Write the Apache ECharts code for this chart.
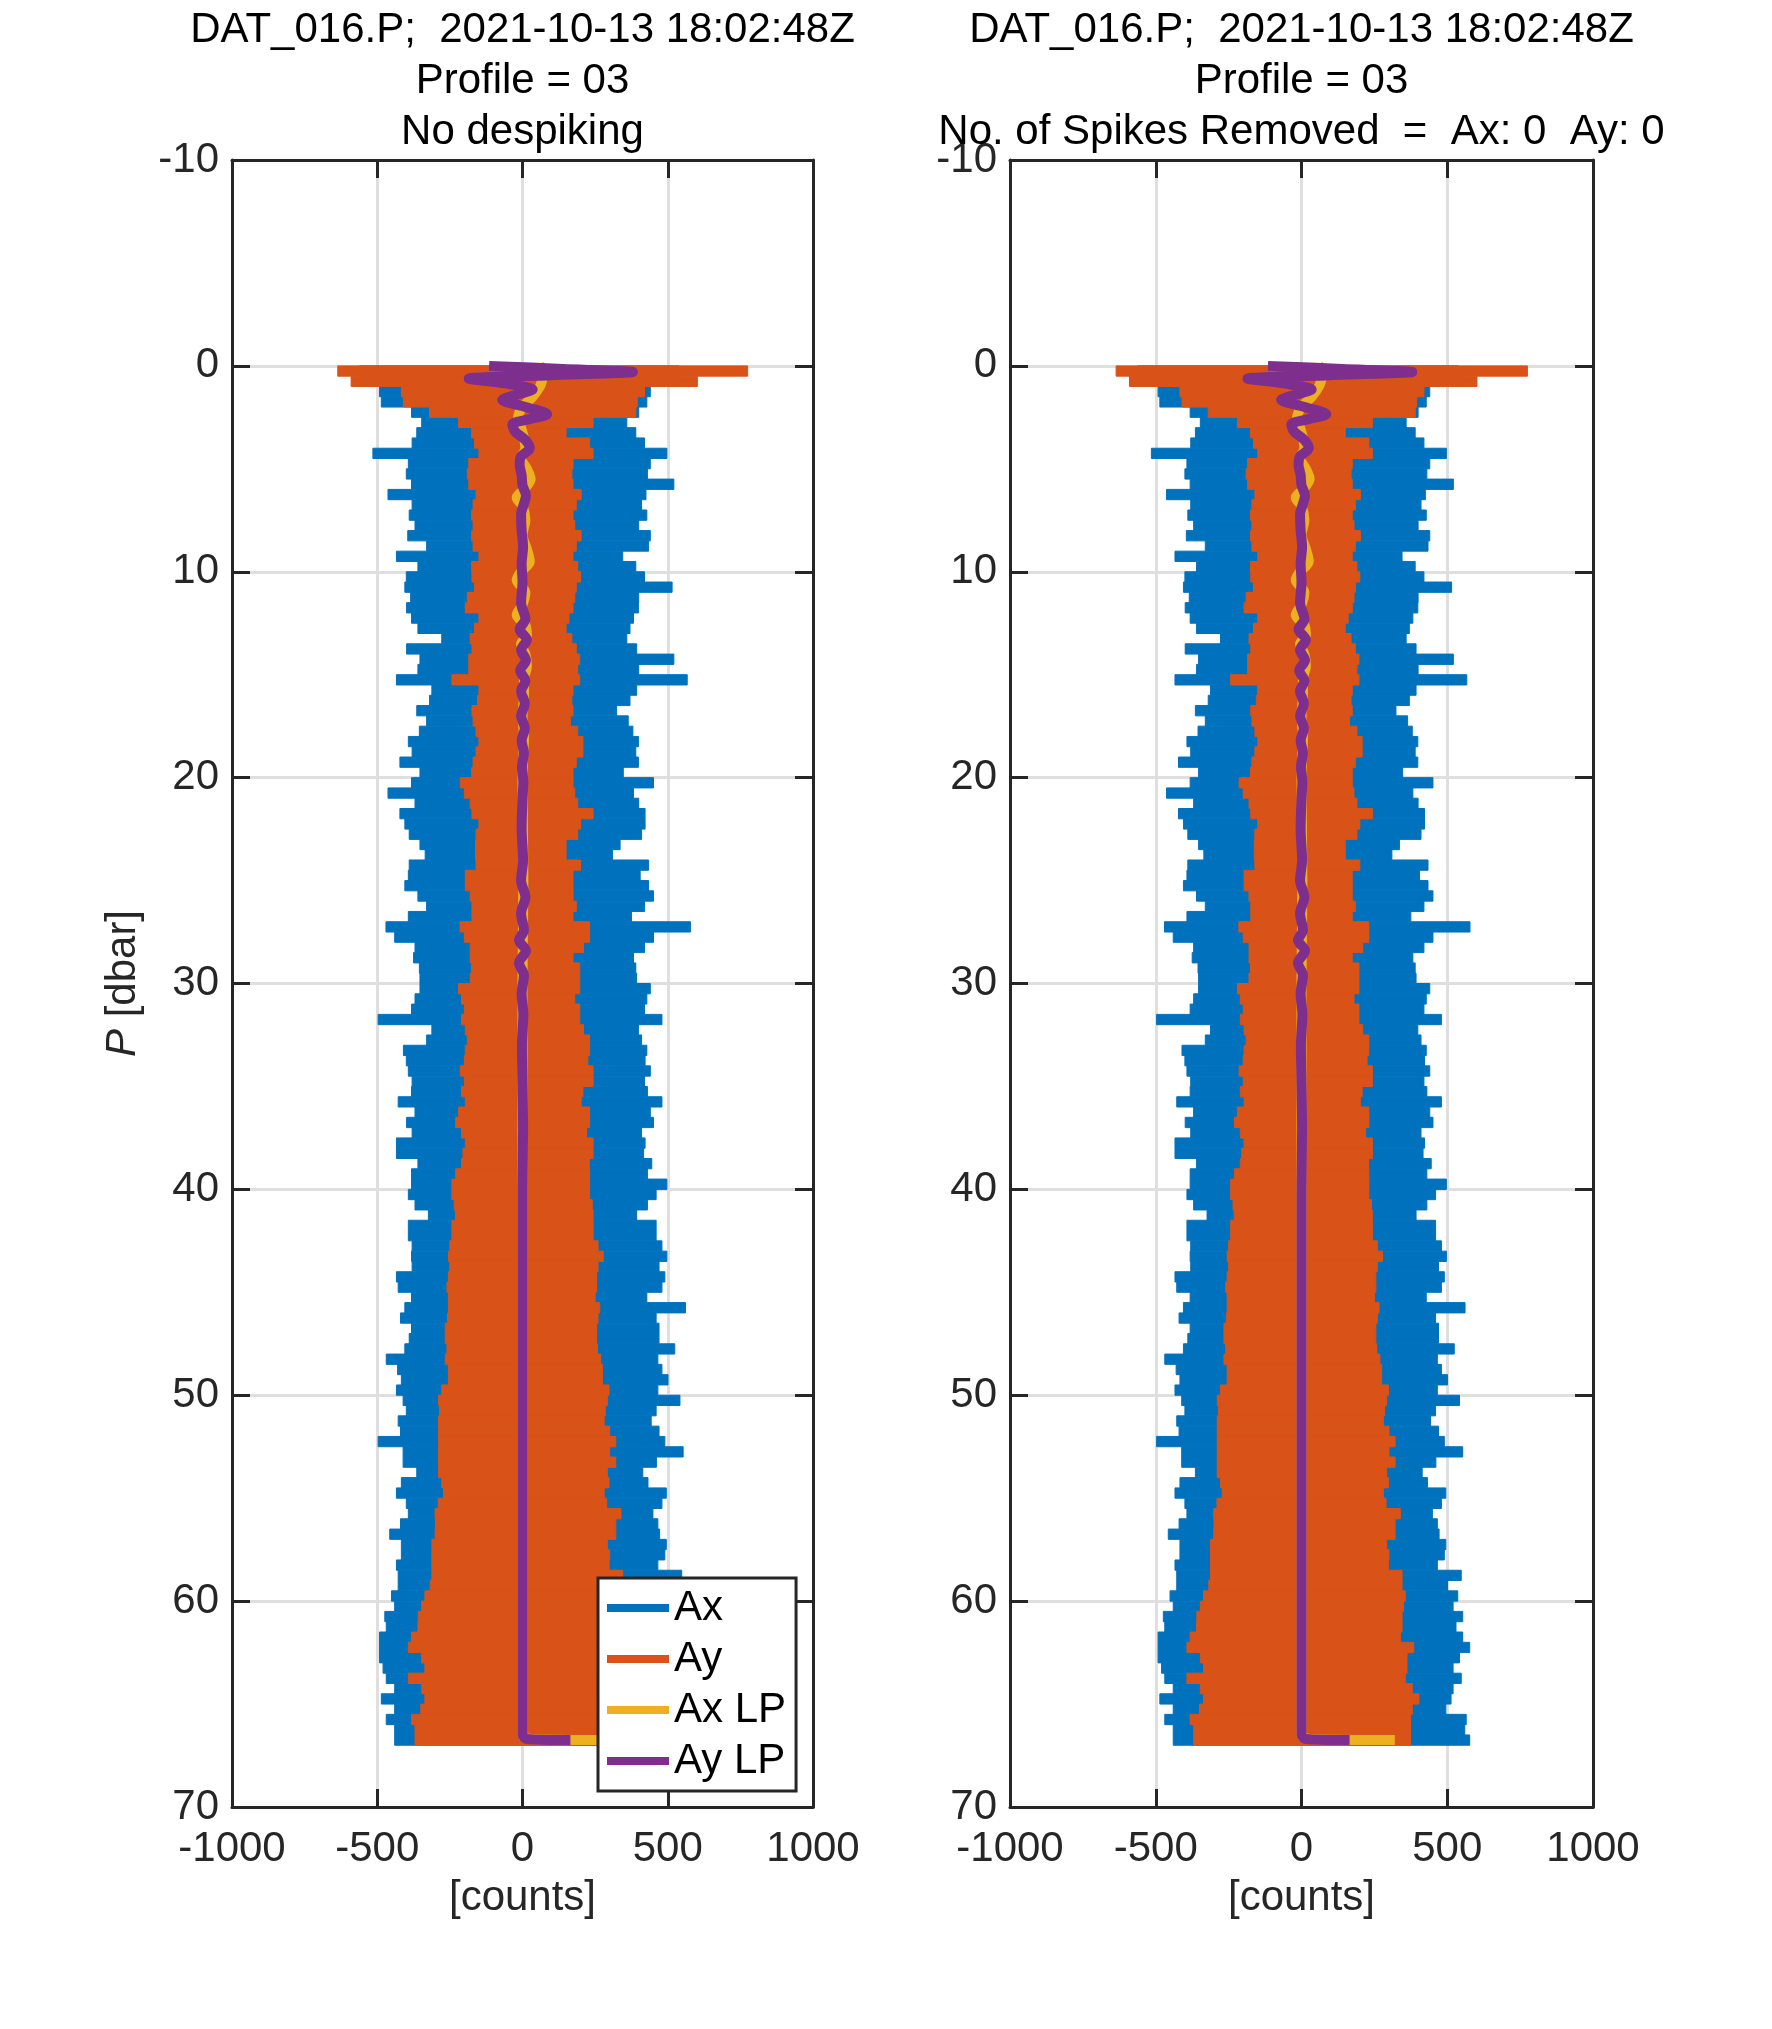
<!DOCTYPE html>
<html>
<head>
<meta charset="utf-8">
<script src="https://cdn.jsdelivr.net/npm/echarts@6/dist/echarts.min.js"></script>
<style>
html,body{margin:0;padding:0;background:#fff;}
#chart{width:1772px;height:2029px;}
</style>
</head>
<body>
<div id="chart"></div>
<script>
// ---- Data ----
// Pressure levels [dbar] at which the envelope of the fast-oscillating traces was read
var pressure = [
0.25,0.75,1.25,1.75,2.25,2.75,3.25,3.75,4.25,4.75,
5.25,5.75,6.25,6.75,7.25,7.75,8.25,8.75,9.25,9.75,
10.25,10.75,11.25,11.75,12.25,12.75,13.25,13.75,14.25,14.75,
15.25,15.75,16.25,16.75,17.25,17.75,18.25,18.75,19.25,19.75,
20.25,20.75,21.25,21.75,22.25,22.75,23.25,
23.75,24.25,24.75,25.25,25.75,26.25,26.75,27.25,27.75,28.25,
28.75,29.25,29.75,30.25,30.75,31.25,31.75,32.25,32.75,33.25,
33.75,34.25,34.75,35.25,35.75,36.25,36.75,37.25,37.75,38.25,
38.75,39.25,39.75,40.25,40.75,41.25,41.75,42.25,42.75,43.25,
43.75,44.25,44.75,45.25,45.75,46.25,46.75,47.25,
47.75,48.25,48.75,49.25,49.75,50.25,50.75,51.25,51.75,52.25,
52.75,53.25,53.75,54.25,54.75,55.25,55.75,56.25,56.75,57.25,
57.75,58.25,58.75,59.25,59.75,60.25,60.75,61.25,61.75,62.25,
62.75,63.25,63.75,64.25,64.75,65.25,65.75,66.25,66.75
];
// Ax [counts]: left and right extremes at each level
var axMin = [
-561,-490,-492,-486,-382,-347,-364,-380,-515,-393,
-400,-382,-463,-380,-390,-370,-395,-330,-434,-360,
-400,-405,-385,-399,-382,-360,-278,-399,-353,-360,
-434,-312,-320,-364,-330,-355,-393,-380,-422,-353,
-382,-463,-370,-422,-405,-390,-353,
-335,-390,-393,-405,-360,-330,-393,-470,-440,-370,
-375,-355,-353,-353,-370,-382,-497,-312,-330,-410,
-400,-393,-380,-382,-428,-370,-399,-380,-434,-434,
-360,-382,-382,-393,-370,-324,-393,-393,-380,-382,
-380,-434,-428,-382,-405,-420,-382,-390,
-405,-469,-430,-417,-434,-411,-400,-428,-420,-497,
-411,-411,-364,-417,-434,-400,-393,-420,-457,-417,
-417,-434,-428,-428,-451,-440,-474,-469,-492,-492,
-492,-480,-469,-440,-486,-440,-469,-440,-440
];
var axMax = [
538,460,440,428,400,359,390,420,497,440,
430,521,425,410,428,400,440,434,345,390,
420,515,400,399,382,370,359,393,521,400,
567,393,370,324,364,380,399,390,399,347,
451,382,400,422,422,410,336,
310,434,405,434,451,420,375,578,451,420,
382,390,393,440,428,420,480,399,410,428,
422,440,420,430,480,440,451,410,422,417,
445,430,497,460,430,393,460,460,480,497,
470,490,480,428,561,460,470,470,
524,466,480,501,466,542,460,443,470,490,
553,461,414,432,495,480,449,466,472,495,
490,466,548,501,536,520,553,530,553,577,
542,520,548,520,513,495,565,560,577
];
// Ay [counts]: left and right extremes at each level
var ayMin = [
-636,-590,-417,-410,-320,-220,-175,-165,-150,-185,
-190,-185,-160,-170,-175,-170,-175,-170,-150,-175,
-174,-165,-190,-197,-150,-165,-180,-174,-185,-185,
-243,-150,-155,-174,-170,-160,-150,-160,-170,-175,
-214,-200,-180,-174,-150,-160,-162,
-162,-160,-197,-197,-180,-174,-174,-215,-200,-180,
-180,-175,-180,-220,-210,-200,-210,-197,-190,-197,
-200,-214,-200,-210,-197,-220,-230,-210,-197,-205,
-210,-230,-243,-243,-235,-231,-243,-243,-250,-255,
-250,-255,-260,-255,-255,-258,-266,-266,
-260,-266,-255,-255,-278,-289,-285,-289,-289,-289,
-289,-289,-289,-278,-272,-290,-301,-300,-301,-312,
-312,-312,-312,-318,-336,-347,-359,-360,-382,-393,
-347,-336,-393,-347,-336,-350,-382,-370,-370
];
var ayMax = [
775,602,420,395,390,243,150,231,243,174,
170,174,202,185,174,180,202,185,174,190,
200,185,180,174,160,150,170,185,197,190,
197,174,170,174,165,190,208,208,185,174,
174,180,190,243,200,190,150,
150,200,174,174,174,185,174,231,231,210,
174,197,197,197,180,197,197,210,231,231,
225,243,243,208,202,231,231,220,243,243,
230,231,231,231,240,243,243,243,260,278,
260,255,255,250,266,260,255,255,
258,269,275,275,298,292,285,281,300,321,
300,321,292,298,281,290,339,321,321,292,
300,298,345,345,356,350,345,345,339,385,
362,362,356,380,403,380,374,374,374
];
// Low-passed traces
var axLpP = [0.0,0.3,0.6,1.0,1.5,2.0,2.5,3.0,3.5,4.0,4.5,5.0,5.5,6.0,6.4,6.8,7.5,8.2,8.9,9.5,10.0,10.4,11.0,11.6,12.1,12.6,13.1,13.5,14.0,14.6,15.2,16.0,17.0,18.0,20.0,25.0,30.0,40.0,50.0,60.0,66.5,66.7,66.75];
var axLpX = [60,80,70,60,35,0,-15,-5,5,10,-5,15,28,5,-20,0,10,0,15,25,-5,-20,10,0,-20,10,15,-5,10,15,5,5,0,5,0,3,0,0,0,0,0,30,320];
var ayLpP = [0.0,0.15,0.3,0.45,0.62,0.85,1.15,1.4,1.65,2.0,2.35,2.6,2.85,3.2,3.6,4.0,4.4,4.8,5.3,5.8,6.3,6.7,7.2,8.0,8.8,9.6,10.5,11.5,12.3,12.8,13.3,13.8,14.3,14.8,15.3,15.8,16.4,17.0,17.6,18.2,18.8,19.5,20.2,21.0,22.5,24.0,25.0,25.8,26.6,27.4,27.9,28.4,29.0,29.6,30.5,31.5,33.0,35.0,37.0,40.0,45.0,50.0,55.0,60.0,66.5,66.7,66.75];
var ayLpX = [-115,140,380,100,-185,-60,35,-20,-70,10,85,20,-35,-25,10,25,-5,-10,-3,0,12,5,-5,-3,2,-3,0,-5,10,-10,15,-5,12,-8,10,-5,8,-5,8,-3,5,-2,3,0,-3,2,-5,10,-5,5,-12,12,-12,5,-3,3,-2,0,2,0,0,0,0,0,0,15,165];

var xTicks = [-1000, -500, 0, 500, 1000];
var yTicks = [-10, 0, 10, 20, 30, 40, 50, 60, 70];
var titles = [
  'DAT_016.P;  2021-10-13 18:02:48Z\nProfile = 03\nNo despiking',
  'DAT_016.P;  2021-10-13 18:02:48Z\nProfile = 03\nNo. of Spikes Removed  =  Ax: 0  Ay: 0'
];
var seriesNames = ['Ax', 'Ay', 'Ax LP', 'Ay LP'];

// ---- Styling ----
var FONT = "'Liberation Sans', Arial, Helvetica, sans-serif";
var FS = 42;
var COL = { 'Ax': '#0072BD', 'Ay': '#D95319', 'Ax LP': '#EDB120', 'Ay LP': '#7E2F8E' };
var AXC = '#262626';
var HALF = 0.25; // half the height of one envelope level (dbar)
var grids = [
  { left: 232, top: 160, width: 581, height: 1647 },
  { left: 1010, top: 160, width: 583, height: 1647 }
];

function bandRender(params, api) {
  var lo = api.value(0), hi = api.value(1), p = api.value(2);
  var a = api.coord([lo, p - HALF]);
  var b = api.coord([hi, p + HALF]);
  var c = api.visual('color');
  return {
    type: 'rect',
    shape: { x: a[0], y: Math.min(a[1], b[1]), width: b[0] - a[0], height: Math.abs(b[1] - a[1]) },
    style: { fill: c, stroke: c, lineWidth: 1 }
  };
}
function plainNum(v) { return String(v); }

var xAxes = [], yAxes = [], series = [], titleArr = [];
for (var g = 0; g < 2; g++) {
  var xMin = xTicks[0], xMax = xTicks[xTicks.length - 1];
  var yMin = yTicks[0], yMax = yTicks[yTicks.length - 1];
  xAxes.push({
    type: 'value', gridIndex: g, position: 'bottom', min: xMin, max: xMax, interval: xTicks[1] - xTicks[0],
    name: '[counts]', nameLocation: 'middle', nameGap: 70,
    nameTextStyle: { fontSize: FS, color: AXC, fontFamily: FONT },
    axisLine: { show: true, onZero: false, lineStyle: { color: AXC, width: 3 } },
    axisTick: { show: true, inside: true, length: 18, lineStyle: { color: AXC, width: 3 } },
    axisLabel: { fontSize: FS, color: AXC, fontFamily: FONT, margin: 21, formatter: plainNum },
    splitLine: { show: true, lineStyle: { color: '#dfdfdf', width: 3 } }
  });
  xAxes.push({
    type: 'value', gridIndex: g, position: 'top', min: xMin, max: xMax, interval: xTicks[1] - xTicks[0],
    axisLine: { show: true, onZero: false, lineStyle: { color: AXC, width: 3 } },
    axisTick: { show: true, inside: true, length: 18, lineStyle: { color: AXC, width: 3 } },
    axisLabel: { show: false }, splitLine: { show: false }
  });
  yAxes.push({
    type: 'value', gridIndex: g, position: 'left', inverse: true, min: yMin, max: yMax, interval: yTicks[1] - yTicks[0],
    name: g === 0 ? '{i|P} [dbar]' : '', nameLocation: 'middle', nameGap: 88, nameRotate: 90,
    nameTextStyle: { fontSize: FS, color: AXC, fontFamily: FONT,
      rich: { i: { fontStyle: 'italic', fontSize: FS, color: AXC, fontFamily: FONT } } },
    axisLine: { show: true, onZero: false, lineStyle: { color: AXC, width: 3 } },
    axisTick: { show: true, inside: true, length: 18, lineStyle: { color: AXC, width: 3 } },
    axisLabel: { fontSize: FS, color: AXC, fontFamily: FONT, margin: 13, formatter: plainNum },
    splitLine: { show: true, lineStyle: { color: '#dfdfdf', width: 3 } }
  });
  yAxes.push({
    type: 'value', gridIndex: g, position: 'right', inverse: true, min: yMin, max: yMax, interval: yTicks[1] - yTicks[0],
    axisLine: { show: true, onZero: false, lineStyle: { color: AXC, width: 3 } },
    axisTick: { show: true, inside: true, length: 18, lineStyle: { color: AXC, width: 3 } },
    axisLabel: { show: false }, splitLine: { show: false }
  });
  titleArr.push({
    text: titles[g], left: grids[g].left + grids[g].width / 2, top: 5, textAlign: 'center', padding: 0,
    textStyle: { fontSize: FS, lineHeight: 51, fontWeight: 'normal', color: '#000', fontFamily: FONT }
  });

  var xi = g * 2, yi = g * 2;
  series.push({
    name: 'Ax', type: 'custom', xAxisIndex: xi, yAxisIndex: yi, clip: true,
    itemStyle: { color: COL['Ax'] }, renderItem: bandRender, encode: { x: [0, 1], y: 2 },
    data: pressure.map(function (p, i) { return [axMin[i], axMax[i], p]; })
  });
  series.push({
    name: 'Ay', type: 'custom', xAxisIndex: xi, yAxisIndex: yi, clip: true,
    itemStyle: { color: COL['Ay'] }, renderItem: bandRender, encode: { x: [0, 1], y: 2 },
    data: pressure.map(function (p, i) { return [ayMin[i], ayMax[i], p]; })
  });
  series.push({
    name: 'Ax LP', type: 'line', xAxisIndex: xi, yAxisIndex: yi, showSymbol: false, smooth: 0.3, clip: true,
    itemStyle: { color: COL['Ax LP'] }, lineStyle: { color: COL['Ax LP'], width: 10 },
    data: axLpP.map(function (p, i) { return [axLpX[i], p]; })
  });
  series.push({
    name: 'Ay LP', type: 'line', xAxisIndex: xi, yAxisIndex: yi, showSymbol: false, smooth: 0.3, clip: true,
    itemStyle: { color: COL['Ay LP'] }, lineStyle: { color: COL['Ay LP'], width: 10 },
    data: ayLpP.map(function (p, i) { return [ayLpX[i], p]; })
  });
}

var option = {
  backgroundColor: '#fff',
  animation: false,
  title: titleArr,
  grid: grids,
  xAxis: xAxes,
  yAxis: yAxes,
  legend: {
    left: 598, top: 1578, orient: 'vertical',
    data: seriesNames.map(function (n) { return { name: n, icon: 'rect' }; }),
    itemWidth: 62, itemHeight: 8, itemGap: 9,
    padding: [9, 10, 9, 9],
    backgroundColor: '#fff', borderColor: AXC, borderWidth: 3,
    selectedMode: false,
    textStyle: { fontSize: FS, color: '#000', fontFamily: FONT, lineHeight: 42 }
  },
  series: series
};

var chart = echarts.init(document.getElementById('chart'), null, { renderer: 'canvas' });
chart.setOption(option);
</script>
</body>
</html>
